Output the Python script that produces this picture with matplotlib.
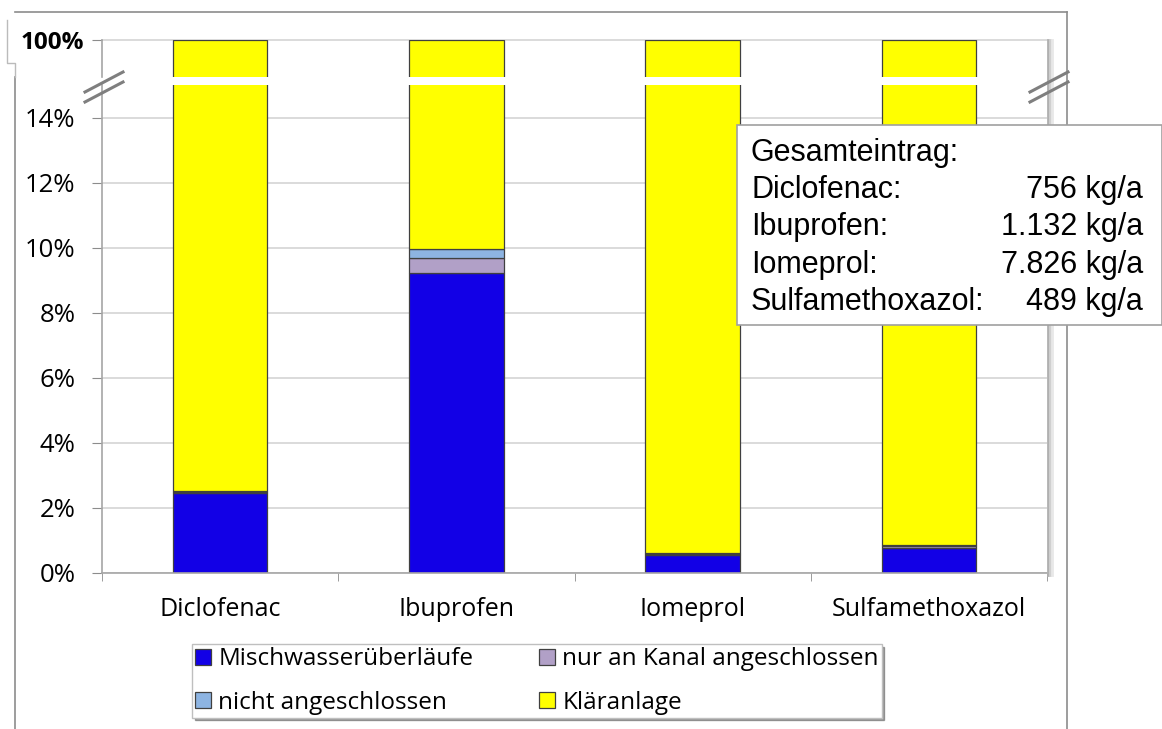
import numpy as np
import matplotlib.pyplot as plt
from matplotlib.patches import Rectangle
from matplotlib.lines import Line2D

plt.rcParams['font.family'] = ['Open Sans', 'DejaVu Sans']

# data (shares in %)
stoffe = ['Diclofenac', 'Ibuprofen', 'Iomeprol', 'Sulfamethoxazol']
misch = [2.45, 9.21, 0.55, 0.77]
kanal = [0.05, 0.46, 0.04, 0.06]
nicht = [0.03, 0.28, 0.02, 0.03]
klaer = [100 - a - b - c for a, b, c in zip(misch, kanal, nicht)]
serien = ['Mischwasserüberläufe', 'nur an Kanal angeschlossen', 'nicht angeschlossen', 'Kläranlage']
farben = ['#1200E6', '#B1A0C7', '#8DB4E2', '#FFFF00']
eintrag = ['756 kg/a', '1.132 kg/a', '7.826 kg/a', '489 kg/a']

W, H = 1162, 729
fig = plt.figure(figsize=(W / 100, H / 100), dpi=100)

def fx(px):
    return px / W

def fy(py):
    return 1 - py / H

# outer chart frame
frame_col = '#8C8C8C'
fig.add_artist(Line2D([fx(15), fx(1067)], [fy(12), fy(12)], color=frame_col, lw=1.2))
fig.add_artist(Line2D([fx(1067), fx(1067)], [fy(12), fy(729)], color=frame_col, lw=1.2))
fig.add_artist(Line2D([fx(15), fx(15)], [fy(77), fy(729)], color=frame_col, lw=1.2))
fig.add_artist(Line2D([fx(7), fx(7), fx(15), fx(15)], [fy(20), fy(63), fy(63), fy(77)],
                      color='#BBBBBB', lw=1.0))

x = np.arange(len(stoffe))
bw = 0.4
grid_col = '#D4D4D4'

ax = fig.add_axes([fx(102), fy(573), fx(1047) - fx(102), fy(85) - fy(573)])
axt = fig.add_axes([fx(102), fy(77), fx(1047) - fx(102), fy(40) - fy(77)])

for a in (ax, axt):
    bottom = np.zeros(len(stoffe))
    for vals, lab, col in zip([misch, kanal, nicht, klaer], serien, farben):
        v = np.array(vals) / 100
        a.bar(x, v, bw, bottom=bottom, color=col, edgecolor='#404040', linewidth=0.9,
              label=lab, zorder=3)
        bottom += v
    a.set_xlim(-0.5, 3.5)
    a.set_facecolor('none')

ax.set_ylim(0, 0.15)
ax.set_yticks(np.arange(0, 0.141, 0.02))
ax.set_yticklabels([f'{int(round(t * 100))}%' for t in ax.get_yticks()], fontsize=18.5)
ax.yaxis.grid(True, color=grid_col, lw=1.2, zorder=0)
ax.set_xticks(x)
ax.set_xticklabels(stoffe, fontsize=18)
ax.set_xticks(np.arange(-0.5, 3.6, 1), minor=True)
ax.tick_params(axis='x', which='major', length=0, pad=17)
ax.tick_params(axis='x', which='minor', length=6, color=frame_col)
ax.tick_params(axis='y', length=7, color=frame_col, pad=12)
for s in ['top', 'right']:
    ax.spines[s].set_visible(False)
for s in ['left', 'bottom']:
    ax.spines[s].set_color('#A6A6A6')
    ax.spines[s].set_linewidth(1.2)
ax.spines['bottom'].set_zorder(4)

axt.set_ylim(0.95, 1.0)
axt.set_yticks([1.0])
axt.set_yticklabels(['100%'], fontsize=17.5, fontweight='bold')
axt.set_xticks([])
axt.axhline(1.0, color=grid_col, lw=1.2, zorder=0, clip_on=False)
axt.tick_params(axis='y', length=7, color=frame_col, pad=6)
for s in ['top', 'right', 'bottom']:
    axt.spines[s].set_visible(False)
axt.spines['left'].set_color('#A6A6A6')
axt.spines['left'].set_linewidth(1.2)

# shadow on the right of the plot area
for i, c in enumerate(['#B0B0B0', '#D0D0D0', '#E8E8E8']):
    fig.add_artist(Line2D([fx(1048 + i * 2)] * 2, [fy(40), fy(575)], color=c, lw=2))

# axis break marks
for x0 in (85, 1030):
    for dy in (0, 10):
        fig.add_artist(Line2D([fx(x0), fx(x0 + 38)], [fy(92 + dy), fy(72 + dy)],
                              color='#7F7F7F', lw=2.2))

# legend
handles, labels = ax.get_legend_handles_labels()
order = [0, 2, 1, 3]
leg = fig.legend([handles[i] for i in order], [labels[i] for i in order], ncol=2,
                 loc='center', bbox_to_anchor=(fx(537), fy(681)), fontsize=17.5,
                 frameon=True, fancybox=False, edgecolor='#BFBFBF', shadow=True,
                 handlelength=0.65, handleheight=0.65, handletextpad=0.3,
                 columnspacing=2.7, labelspacing=0.8, borderpad=0.12)
leg.get_frame().set_linewidth(1.0)

# text box with total loads
fig.add_artist(Rectangle((fx(737), fy(325)), fx(1162) - fx(737), fy(125) - fy(325),
                         facecolor='white', edgecolor='#A0A0A0', lw=1.2, zorder=10))
box_font = ['Liberation Sans', 'DejaVu Sans']
fig.text(fx(751), fy(161), 'Gesamteintrag:', fontsize=22, family=box_font, zorder=11)
for i, (s, e) in enumerate(zip(stoffe, eintrag)):
    yb = fy(198 + i * 37.3)
    fig.text(fx(751), yb, s + ':', fontsize=22, family=box_font, zorder=11)
    fig.text(fx(1143), yb, e, fontsize=22, family=box_font, ha='right', zorder=11)

fig.savefig('out.png', dpi=100)
